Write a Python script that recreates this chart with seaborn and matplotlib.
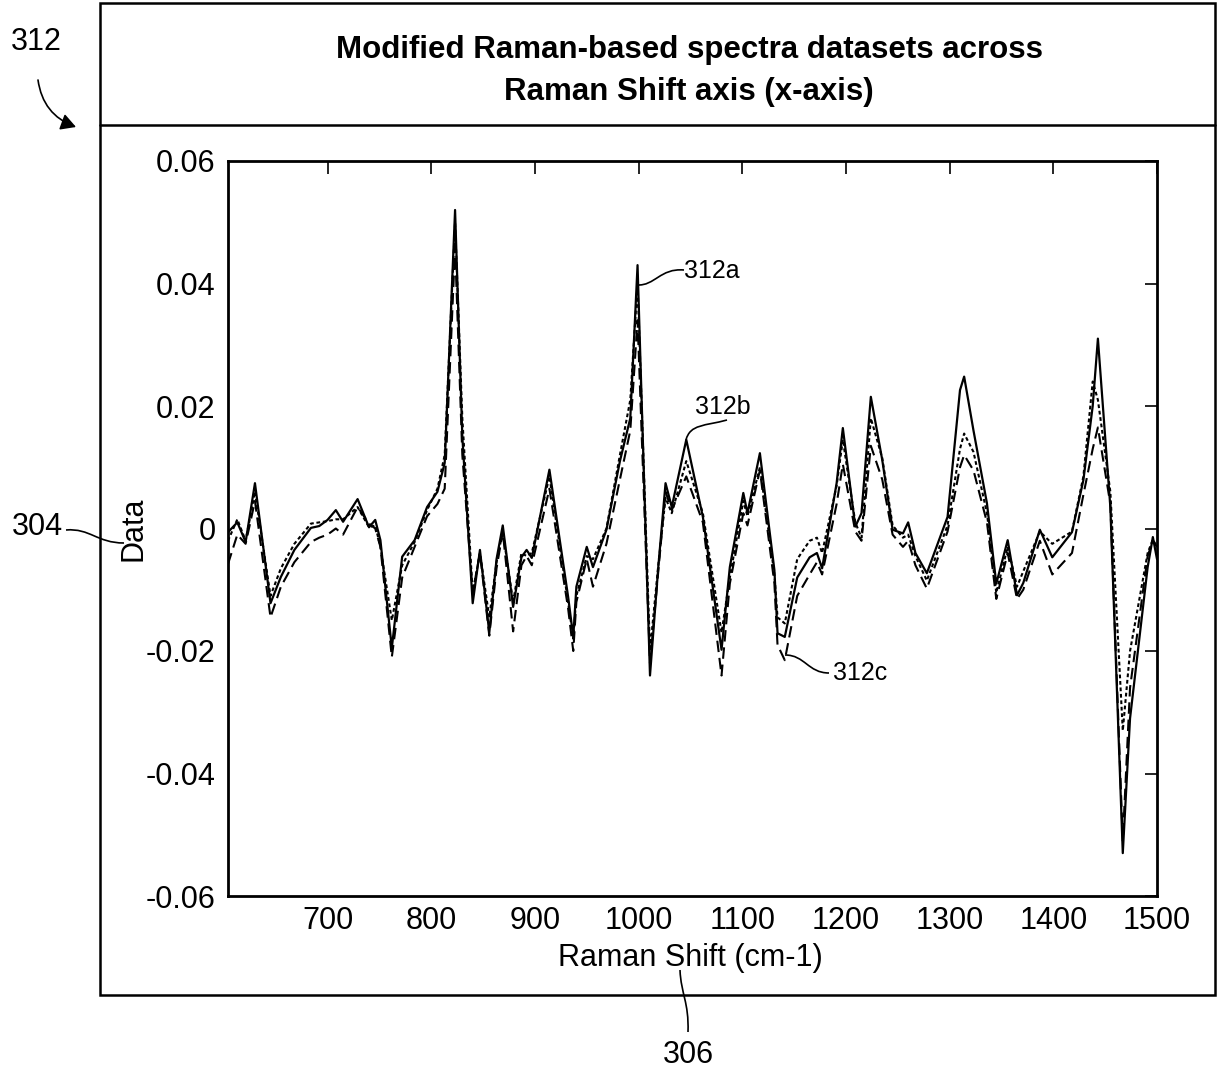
import matplotlib
matplotlib.use("Agg")
import matplotlib.pyplot as plt
import seaborn as sns
import numpy as np
import pandas as pd
from matplotlib.path import Path
from matplotlib.patches import PathPatch, FancyArrowPatch, Rectangle
from matplotlib.lines import Line2D

# ---------------- data ----------------
raman_shift = [604, 613, 621, 630, 645, 655, 668, 684, 692, 700, 708, 715, 729, 740, 746, 751,
               762, 772, 784, 796, 806, 813, 823, 830, 840, 847, 856, 863, 869, 879, 887, 892,
               897, 914, 932, 937, 940, 950, 956, 969, 982, 992, 999, 1011, 1019, 1026, 1032,
               1046, 1062, 1080, 1088, 1101, 1105, 1117, 1131, 1134, 1141, 1153, 1165, 1172,
               1177, 1191, 1197, 1209, 1215, 1224, 1235, 1245, 1255, 1260, 1267, 1278, 1298,
               1310, 1314, 1323, 1336, 1345, 1356, 1365, 1371, 1387, 1399, 1418, 1429, 1438,
               1443, 1455, 1467, 1474, 1491, 1496, 1500]

series_312a = [-0.0006, 0.001, -0.0022, 0.0074, -0.0122, -0.0079, -0.0035, 0.0001, 0.0004, 0.0014,
               0.003, 0.0011, 0.0048, 0.0002, 0.0014, -0.0019, -0.0195, -0.0046, -0.0019, 0.0035,
               0.006, 0.0107, 0.052, 0.015, -0.0122, -0.0035, -0.017, -0.005, 0.0005, -0.0128,
               -0.0047, -0.0035, -0.0048, 0.0096, -0.0111, -0.0177, -0.0095, -0.003, -0.0063,
               -0.0002, 0.011, 0.018, 0.043, -0.024, -0.0063, 0.0074, 0.0035, 0.0145, 0.0019,
               -0.0198, -0.0063, 0.0058, 0.0025, 0.0123, -0.0068, -0.0171, -0.0177, -0.008,
               -0.0047, -0.004, -0.0065, 0.0074, 0.0164, 0.0003, 0.0025, 0.0215, 0.0112, -0.0002,
               -0.0008, 0.001, -0.004, -0.0073, 0.0019, 0.0226, 0.0248, 0.016, 0.0041, -0.009,
               -0.0019, -0.0109, -0.0089, -0.0002, -0.0047, -0.0006, 0.0079, 0.020, 0.031, 0.0035,
               -0.053, -0.031, -0.0063, -0.0014, -0.005]

series_312b = [-0.002, 0.0015, -0.002, 0.006, -0.011, -0.0065, -0.0025, 0.0008, 0.001, 0.0012,
               0.0015, 0.0015, 0.0035, 0.0002, 0.0005, -0.003, -0.015, -0.006, -0.0022, 0.003,
               0.0065, 0.012, 0.050, 0.018, -0.0105, -0.004, -0.0145, -0.0055, -0.0005, -0.012,
               -0.004, -0.0045, -0.004, 0.0085, -0.012, -0.018, -0.011, -0.0045, -0.005,
               0.0, 0.012, 0.021, 0.040, -0.020, -0.006, 0.005, 0.0025, 0.0110, 0.0025,
               -0.017, -0.008, 0.0045, 0.002, 0.010, -0.0075, -0.0145, -0.0155, -0.005,
               -0.002, -0.0015, -0.004, 0.007, 0.0145, 0.001, -0.0015, 0.018, 0.0115, 0.0005,
               -0.0015, -0.001, -0.0045, -0.0085, 0.0005, 0.013, 0.0155, 0.0125, 0.0025, -0.0105,
               -0.003, -0.0095, -0.007, -0.0005, -0.0025, -0.0005, 0.0085, 0.024, 0.021, 0.006,
               -0.033, -0.020, -0.004, -0.0018, -0.003]

series_312c = [-0.0058, -0.001, -0.0025, 0.0045, -0.0145, -0.0095, -0.0055, -0.0022, -0.0015, -0.001,
               0.0, -0.001, 0.0035, 0.0008, 0.0, -0.003, -0.021, -0.008, -0.003, 0.002,
               0.004, 0.0065, 0.046, 0.012, -0.0105, -0.004, -0.0175, -0.0065, -0.0005, -0.0168,
               -0.006, -0.0045, -0.006, 0.0065, -0.013, -0.020, -0.012, -0.005, -0.0095,
               -0.0025, 0.008, 0.016, 0.034, -0.022, -0.007, 0.006, 0.003, 0.0085, 0.001,
               -0.024, -0.009, 0.0025, 0.0005, 0.0095, -0.009, -0.019, -0.0215, -0.011,
               -0.0075, -0.0055, -0.0075, 0.004, 0.0105, -0.0005, -0.002, 0.0135, 0.008, -0.001,
               -0.003, -0.002, -0.006, -0.0098, -0.0005, 0.010, 0.012, 0.0095, 0.001, -0.0115,
               -0.004, -0.0115, -0.010, -0.002, -0.0075, -0.004, 0.0055, 0.013, 0.0165, 0.004,
               -0.051, -0.026, -0.0045, -0.002, -0.003]

x_ticks = [700, 800, 900, 1000, 1100, 1200, 1300, 1400, 1500]
y_ticks = [-0.06, -0.04, -0.02, 0, 0.02, 0.04, 0.06]
y_tick_labels = ["-0.06", "-0.04", "-0.02", "0", "0.02", "0.04", "0.06"]

title_lines = ["Modified Raman-based spectra datasets across", "Raman Shift axis (x-axis)"]

# ---------------- style ----------------
sns.set_style("white")
plt.rcParams["font.family"] = ["Liberation Sans", "DejaVu Sans"]

W, H = 1225, 1077
fig = plt.figure(figsize=(W / 100, H / 100), dpi=100)
fig.patch.set_facecolor("white")

def fx(px):
    return px / W

def fy(py):
    return 1 - py / H

ax = fig.add_axes([fx(228), fy(896), fx(1157) - fx(228), fy(161) - fy(896)])

df = pd.DataFrame({"shift": raman_shift, "a": series_312a, "b": series_312b, "c": series_312c})
sns.lineplot(data=df, x="shift", y="a", ax=ax, color="black", linewidth=1.6, linestyle="-")
sns.lineplot(data=df, x="shift", y="b", ax=ax, color="black", linewidth=1.5,
             linestyle=(0, (1.8, 1.3)))
sns.lineplot(data=df, x="shift", y="c", ax=ax, color="black", linewidth=1.5,
             linestyle=(0, (5.5, 2.8)))

ax.set_xlim(604, 1500)
ax.set_ylim(-0.06, 0.06)
ax.set_xticks(x_ticks)
ax.set_yticks(y_ticks)
ax.set_yticklabels(y_tick_labels)
ax.tick_params(axis="both", direction="in", length=9, width=1.2, labelsize=22,
               top=True, right=True, colors="black")
ax.tick_params(axis="x", pad=7)
ax.tick_params(axis="y", pad=9)
for s in ax.spines.values():
    s.set_visible(True)
    s.set_linewidth(2.0)
    s.set_color("black")
ax.grid(False)

ax.set_xlabel("Raman Shift (cm-1)", fontsize=22, color="black")
ax.set_ylabel("Data", fontsize=22, color="black")
ax.xaxis.set_label_coords(0.498, -0.064)
ax.yaxis.set_label_coords(-0.086, 0.5)

# ---------------- frame & title ----------------
fig.add_artist(Rectangle((fx(100), fy(995)), fx(1215) - fx(100), fy(3) - fy(995),
                         transform=fig.transFigure, fill=False, edgecolor="black", linewidth=1.8))
fig.add_artist(Line2D([fx(100), fx(1215)], [fy(125), fy(125)], transform=fig.transFigure,
                      color="black", linewidth=1.8))
fig.text(fx(689), fy(50), title_lines[0], ha="center", va="center", fontsize=22.5,
         fontweight="bold", color="black")
fig.text(fx(689), fy(92), title_lines[1], ha="center", va="center", fontsize=22.5,
         fontweight="bold", color="black")

# ---------------- reference numerals & leaders ----------------
def leader(p0, c1, c2, p1, lw=1.2):
    verts = [(fx(p0[0]), fy(p0[1])), (fx(c1[0]), fy(c1[1])), (fx(c2[0]), fy(c2[1])),
             (fx(p1[0]), fy(p1[1]))]
    path = Path(verts, [Path.MOVETO, Path.CURVE4, Path.CURVE4, Path.CURVE4])
    fig.add_artist(PathPatch(path, transform=fig.transFigure, fill=False,
                             edgecolor="black", linewidth=lw))

fig.text(fx(36), fy(42), "312", ha="center", va="center", fontsize=22, color="black")
fig.add_artist(FancyArrowPatch((fx(38), fy(80)), (fx(76), fy(127)), transform=fig.transFigure,
                               connectionstyle="arc3,rad=0.3", arrowstyle="-|>,head_length=9,head_width=5",
                               color="black", linewidth=1.2, shrinkA=0, shrinkB=0))

fig.text(fx(37), fy(527), "304", ha="center", va="center", fontsize=22, color="black")
leader((66, 530), (90, 528), (97, 543), (124, 543))

fig.text(fx(688), fy(1055), "306", ha="center", va="center", fontsize=22, color="black")
leader((680, 970), (681, 994), (689, 1002), (688, 1032))

fig.text(fx(712), fy(271), "312a", ha="center", va="center", fontsize=18, color="black")
leader((637, 285), (655, 286), (660, 268), (684, 270))

fig.text(fx(723), fy(407), "312b", ha="center", va="center", fontsize=18, color="black")
leader((686, 440), (690, 424), (705, 426), (727, 420))

fig.text(fx(860), fy(673), "312c", ha="center", va="center", fontsize=18, color="black")
leader((785, 655), (805, 655), (808, 673), (829, 673))

fig.savefig("out.png", dpi=100, facecolor="white")
